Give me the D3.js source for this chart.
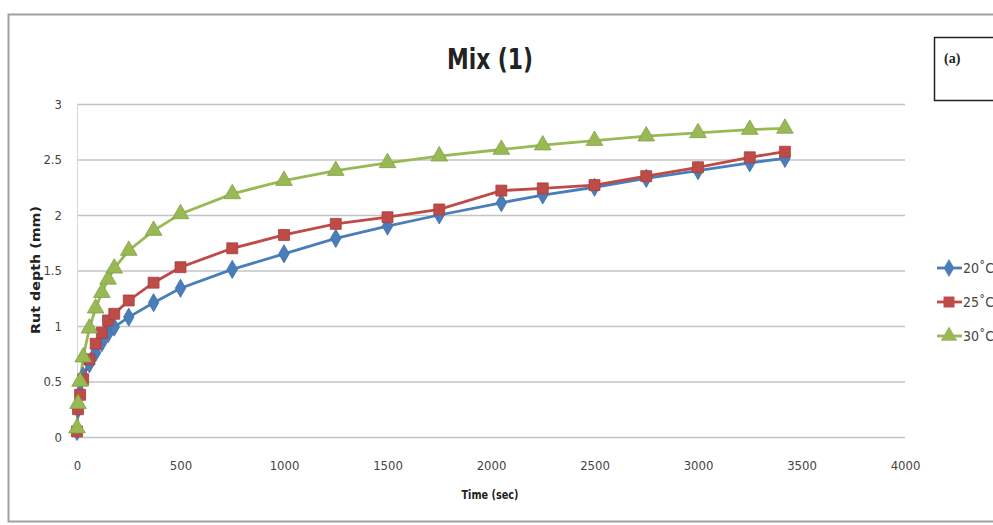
<!DOCTYPE html>
<html lang="en">
<head>
  <meta charset="UTF-8">
  <title>Mix (1)</title>
  <script src="https://d3js.org/d3.v7.min.js"></script>
  <style>
    body { margin: 0; background: #fff; }
    svg { display: block; }
    .narrow { font-family: "DejaVu Sans Condensed", "DejaVu Sans", sans-serif; font-stretch: condensed; }
    .tick text { font-family: "DejaVu Sans Condensed", "DejaVu Sans", sans-serif; font-stretch: condensed; font-size: 13px; fill: #444; }
  </style>
</head>
<body>
  <svg width="993" height="525"></svg>

  <script>
    // Data
    const times = [0, 5, 15, 30, 60, 90, 120, 150, 180, 250, 370, 500, 750, 1000,
                   1250, 1500, 1750, 2050, 2250, 2500, 2750, 3000, 3250, 3420];
    const rut20 = [0.05, 0.25, 0.4, 0.55, 0.66, 0.76, 0.85, 0.93, 0.99, 1.08, 1.21, 1.34, 1.51, 1.65,
                   1.79, 1.9, 2.0, 2.11, 2.18, 2.25, 2.33, 2.4, 2.47, 2.51];
    const rut25 = [0.05, 0.25, 0.38, 0.52, 0.7, 0.84, 0.94, 1.05, 1.11, 1.23, 1.39, 1.53, 1.7, 1.82,
                   1.92, 1.98, 2.05, 2.22, 2.24, 2.27, 2.35, 2.43, 2.52, 2.57];
    const rut30 = [0.08, 0.3, 0.5, 0.72, 0.98, 1.16, 1.3, 1.42, 1.52, 1.68, 1.86, 2.01, 2.19, 2.31,
                   2.4, 2.47, 2.53, 2.59, 2.63, 2.67, 2.71, 2.74, 2.77, 2.78];
    const seriesNames = ["20˚C", "25˚C", "30˚C"];
    const xTicks = [0, 500, 1000, 1500, 2000, 2500, 3000, 3500, 4000];
    const yTicks = [0, 0.5, 1, 1.5, 2, 2.5, 3];

    const series = [
      { name: seriesNames[0], values: rut20, color: "#4a7ebb", symbol: d3.symbolDiamond, size: 95 },
      { name: seriesNames[1], values: rut25, color: "#be4b48", symbol: d3.symbolSquare, size: 120 },
      { name: seriesNames[2], values: rut30, color: "#98b954", symbol: d3.symbolTriangle, size: 120 }
    ];

    const svg = d3.select("svg");

    // outer frame
    svg.append("rect")
      .attr("x", 8.5).attr("y", 14.5)
      .attr("width", 1000).attr("height", 507)
      .attr("fill", "none").attr("stroke", "#a0a0a0").attr("stroke-width", 2);

    const x = d3.scaleLinear().domain([0, 4000]).range([77, 905]);
    const y = d3.scaleLinear().domain([0, 3]).range([437, 104]);

    // gridlines
    svg.append("g")
      .selectAll("line")
      .data(yTicks)
      .join("line")
      .attr("x1", x(0)).attr("x2", x(4000))
      .attr("y1", d => y(d) + 0.5).attr("y2", d => y(d) + 0.5)
      .attr("stroke", "#c4c4c4").attr("stroke-width", 1.5);

    svg.append("line")
      .attr("x1", x(0) + 0.5).attr("x2", x(0) + 0.5)
      .attr("y1", y(3)).attr("y2", y(0))
      .attr("stroke", "#d8d8d8").attr("stroke-width", 1);

    // axes
    const xAxis = svg.append("g")
      .attr("transform", `translate(0,${y(0)})`)
      .call(d3.axisBottom(x).tickValues(xTicks).tickSize(0).tickPadding(24).tickFormat(d3.format("d")));
    xAxis.select(".domain").remove();

    const yAxis = svg.append("g")
      .attr("transform", `translate(${x(0)},0)`)
      .call(d3.axisLeft(y).tickValues(yTicks).tickSize(0).tickPadding(15).tickFormat(d => d));
    yAxis.select(".domain").remove();

    // lines and markers
    const line = d3.line()
      .x((d, i) => x(times[i]))
      .y(d => y(d));

    series.forEach(s => {
      svg.append("path")
        .datum(s.values)
        .attr("fill", "none")
        .attr("stroke", s.color)
        .attr("stroke-width", 2.8)
        .attr("d", line);
    });

    series.forEach(s => {
      svg.append("g")
        .selectAll("path")
        .data(s.values)
        .join("path")
        .attr("transform", (d, i) => `translate(${x(times[i])},${y(d)})`)
        .attr("d", d3.symbol().type(s.symbol).size(s.size))
        .attr("fill", s.color)
        .attr("stroke", d3.color(s.color).darker(0.4))
        .attr("stroke-width", 0.8);
    });

    // title
    svg.append("text")
      .attr("class", "narrow")
      .attr("x", 490).attr("y", 69)
      .attr("text-anchor", "middle")
      .attr("font-size", 28).attr("font-weight", "bold")
      .attr("textLength", 86).attr("lengthAdjust", "spacingAndGlyphs")
      .attr("fill", "#222")
      .text("Mix (1)");

    // axis titles
    svg.append("text")
      .attr("class", "narrow")
      .attr("x", 490).attr("y", 499)
      .attr("text-anchor", "middle")
      .attr("font-size", 13).attr("font-weight", "bold")
      .attr("textLength", 57).attr("lengthAdjust", "spacingAndGlyphs")
      .attr("fill", "#222")
      .text("Time (sec)");

    svg.append("text")
      .attr("transform", "translate(40,270) rotate(-90)")
      .attr("text-anchor", "middle")
      .attr("font-family", "DejaVu Sans, sans-serif")
      .attr("font-size", 12).attr("font-weight", "bold")
      .attr("textLength", 128).attr("lengthAdjust", "spacingAndGlyphs")
      .attr("fill", "#222")
      .text("Rut depth  (mm)");

    // (a) box
    svg.append("rect")
      .attr("x", 934.5).attr("y", 37.5)
      .attr("width", 80).attr("height", 63)
      .attr("fill", "#fff").attr("stroke", "#222").attr("stroke-width", 1.5);
    svg.append("text")
      .attr("x", 944).attr("y", 63)
      .attr("font-family", "Liberation Serif, serif")
      .attr("font-size", 14).attr("font-weight", "bold")
      .attr("fill", "#222")
      .text("(a)");

    // legend
    const legend = svg.append("g")
      .selectAll("g")
      .data(series)
      .join("g")
      .attr("transform", (d, i) => `translate(937,${268 + i * 34})`);
    legend.append("line")
      .attr("x1", 0).attr("x2", 25)
      .attr("stroke", d => d.color).attr("stroke-width", 2.8);
    legend.append("path")
      .attr("transform", "translate(12,0)")
      .attr("d", d => d3.symbol().type(d.symbol).size(d.size)())
      .attr("fill", d => d.color);
    legend.append("text")
      .attr("class", "narrow")
      .attr("x", 26).attr("y", 5)
      .attr("font-size", 14)
      .attr("fill", "#444")
      .text(d => d.name);
  </script>
</body>
</html>
